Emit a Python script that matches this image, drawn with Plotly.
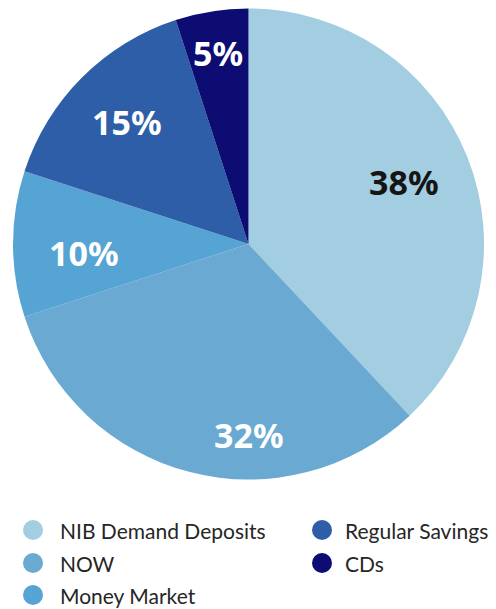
import math
import plotly.graph_objects as go

# Deposit mix by account type
categories = ["NIB Demand Deposits", "NOW", "Money Market", "Regular Savings", "CDs"]
shares = [38, 32, 10, 15, 5]
slice_colors = ["#a3cde0", "#6aa9d1", "#56a4d4", "#2f5ea9", "#0c0c72"]
label_colors = ["#151515", "#ffffff", "#ffffff", "#ffffff", "#ffffff"]
# where each percentage sits: fraction of the radius, and a nudge off the slice bisector (deg)
label_radius = [0.71, 0.81, 0.70, 0.73, 0.82]
label_shift = [0, -14.4, -3, 0, 0]

W, H = 496, 609
pie_left, pie_right, pie_top, pie_bottom = 13, 484, 8, 480

fig = go.Figure()
fig.add_trace(go.Pie(
    labels=categories,
    values=shares,
    sort=False,
    direction="clockwise",
    rotation=0,
    marker=dict(colors=slice_colors, line=dict(width=0)),
    textinfo="none",
    showlegend=False,
    hoverinfo="label+percent",
    domain=dict(x=[pie_left / W, pie_right / W], y=[1 - pie_bottom / H, 1 - pie_top / H]),
))

annotations, shapes = [], []

# Percentage labels placed along each slice's bisector
cx0 = (pie_left + pie_right) / 2
cy0 = (pie_top + pie_bottom) / 2
radius = min(pie_right - pie_left, pie_bottom - pie_top) / 2
total = sum(shares)
start = 0.0
for val, col, rf, shift in zip(shares, label_colors, label_radius, label_shift):
    sweep = 360.0 * val / total
    ang = math.radians(start + sweep / 2 + shift)
    px = cx0 + rf * radius * math.sin(ang)
    py = cy0 - rf * radius * math.cos(ang)
    annotations.append(dict(
        text=f"{val}%", xref="paper", yref="paper",
        x=px / W, y=1 - py / H, xanchor="center", yanchor="middle",
        showarrow=False,
        font=dict(family="Noto Sans", size=34, color=col, weight="bold"),
    ))
    start += sweep

# Legend drawn as circles + labels in two columns
col_x = [33, 322]
text_x = [58, 343]
row_y = [530, 563, 595]
layout_slots = [(0, 0), (0, 1), (0, 2), (1, 0), (1, 1)]
rad = 10
for name, color, (c, r) in zip(categories, slice_colors, layout_slots):
    cx, cy = col_x[c], row_y[r]
    shapes.append(dict(
        type="circle", xref="paper", yref="paper",
        x0=(cx - rad) / W, x1=(cx + rad) / W,
        y0=1 - (cy + rad) / H, y1=1 - (cy - rad) / H,
        fillcolor=color, line=dict(width=0),
    ))
    annotations.append(dict(
        text=name, xref="paper", yref="paper",
        x=text_x[c] / W, y=1 - cy / H,
        xanchor="left", yanchor="middle", showarrow=False,
        font=dict(family="Lato", size=21, color="#262626"),
    ))

fig.update_layout(
    width=W, height=H,
    margin=dict(l=0, r=0, t=0, b=0),
    paper_bgcolor="#ffffff",
    plot_bgcolor="#ffffff",
    shapes=shapes,
    annotations=annotations,
)

fig.write_html("out.html")
